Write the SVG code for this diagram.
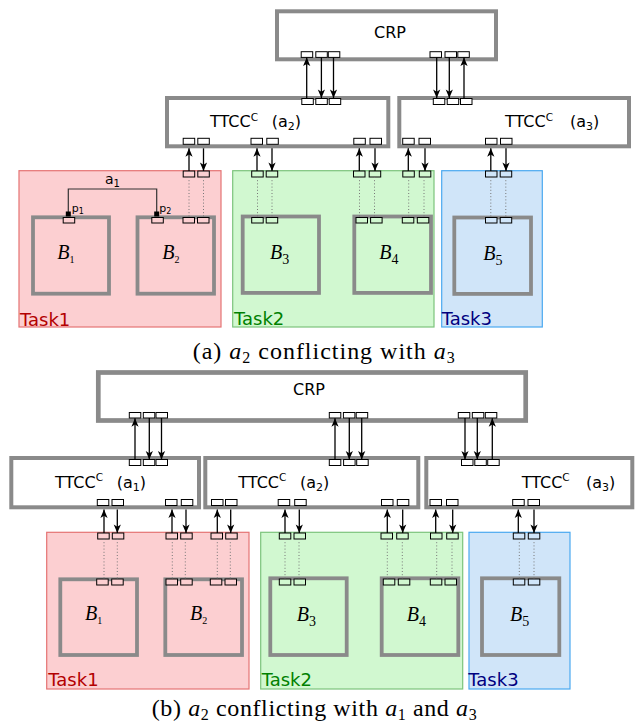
<svg xmlns="http://www.w3.org/2000/svg" xmlns:xlink="http://www.w3.org/1999/xlink" width="636" height="727" viewBox="0 0 636 727">
<style>
.box{fill:#fff;stroke:#8a8a8a;stroke-width:4;}
.crpb{fill:#fff;stroke:#8a8a8a;stroke-width:4.7;}
.blk{fill:none;stroke:#8a8a8a;stroke-width:3.8;}
.port{stroke:#000;stroke-width:1;}
.pw{fill:#fff;}
.p1{fill:#fccfd1;}
.p2{fill:#d1f8d0;}
.p3{fill:#d0e5f9;}
.t1{fill:#fccfd1;stroke:#e57373;stroke-width:1.2;}
.t2{fill:#d1f8d0;stroke:#7cc47c;stroke-width:1.2;}
.t3{fill:#d0e5f9;stroke:#4aa8f0;stroke-width:1.2;}
.arr{stroke:#000;stroke-width:1.3;fill:none;marker-end:url(#ah);}
.dot{stroke:#777;stroke-width:1;stroke-dasharray:1 2.2;fill:none;}
.sans{font-family:"DejaVu Sans",sans-serif;fill:#000;}
.lab{font-family:"DejaVu Sans",sans-serif;font-size:16px;}
.task{font-family:"DejaVu Sans",sans-serif;font-size:18px;}
.bl{font-family:"Liberation Serif",serif;font-style:italic;font-size:20px;fill:#000;}
.cap{font-family:"Liberation Serif",serif;font-size:24px;fill:#000;}
</style>
<defs>
<marker id="ah" markerUnits="userSpaceOnUse" markerWidth="12" markerHeight="10" viewBox="-10 -5 12 10" refX="0" refY="0" orient="auto">
<path d="M0,0 L-8.5,-3.6 L-6.3,0 L-8.5,3.6 Z" fill="#000"/>
</marker>
</defs>

<!-- ================= (a) ================= -->
<g id="a-task1">
<rect class="t1" x="19" y="170.7" width="202" height="156.3"/>
<text class="task" x="20" y="325.5" fill="#b30000">Task1</text>
<rect class="port p1" x="183.2" y="171" width="11.5" height="6"/>
<rect class="port p1" x="197.8" y="171" width="11.5" height="6"/>
</g>
<g id="a-task2">
<rect class="t2" x="232.7" y="170.7" width="201.3" height="156.3"/>
<text class="task" x="234" y="324.5" fill="#008000">Task2</text>
<rect class="port p2" x="251.7" y="171" width="11.5" height="6"/>
<rect class="port p2" x="266.2" y="171" width="11.5" height="6"/>
<rect class="port p2" x="353.5" y="171" width="11.5" height="6"/>
<rect class="port p2" x="369.2" y="171" width="11.5" height="6"/>
<rect class="port p2" x="402.8" y="171" width="11.5" height="6"/>
<rect class="port p2" x="419.3" y="171" width="11.5" height="6"/>
</g>
<g id="a-task3">
<rect class="t3" x="441.7" y="170.7" width="100.6" height="156.3"/>
<text class="task" x="441.7" y="324.5" fill="#000080">Task3</text>
<rect class="port p3" x="485.5" y="171" width="11.5" height="6"/>
<rect class="port p3" x="500.2" y="171" width="11.5" height="6"/>
</g>

<g id="a-B1">
<rect class="blk" x="33" y="217.3" width="76" height="76.4"/>
<rect class="port p1" x="63.2" y="217.5" width="11.5" height="5.5"/>
<text class="bl" x="57.3" y="258.5">B<tspan font-size="10" font-style="normal" dy="4">1</tspan></text>
</g>
<g id="a-B2">
<rect class="blk" x="137.5" y="217.3" width="76.5" height="76.4"/>
<rect class="port p1" x="151.8" y="217.5" width="11.5" height="5.5"/>
<rect class="port p1" x="183" y="217.5" width="11.5" height="5.5"/>
<rect class="port p1" x="197.5" y="217.5" width="11.5" height="5.5"/>
<text class="bl" x="162.3" y="258.5">B<tspan font-size="10" font-style="normal" dy="4">2</tspan></text>
</g>
<g id="a-B3">
<rect class="blk" x="242.7" y="216.5" width="76.3" height="76.4"/>
<rect class="port p2" x="251.7" y="217.5" width="11.5" height="5.5"/>
<rect class="port p2" x="266.2" y="217.5" width="11.5" height="5.5"/>
<text class="bl" x="270" y="259">B<tspan font-size="14" font-style="normal" dy="5">3</tspan></text>
</g>
<g id="a-B4">
<rect class="blk" x="354.3" y="216.5" width="76.7" height="76.4"/>
<rect class="port p2" x="356" y="217.5" width="11.5" height="5.5"/>
<rect class="port p2" x="370.6" y="217.5" width="11.5" height="5.5"/>
<rect class="port p2" x="402.3" y="217.5" width="11.5" height="5.5"/>
<rect class="port p2" x="417.3" y="217.5" width="11.5" height="5.5"/>
<text class="bl" x="379.3" y="259">B<tspan font-size="14" font-style="normal" dy="5">4</tspan></text>
</g>
<g id="a-B5">
<rect class="blk" x="454.3" y="217.5" width="76.7" height="76.4"/>
<rect class="port p3" x="485.5" y="217.5" width="11.5" height="5.5"/>
<rect class="port p3" x="500.2" y="217.5" width="11.5" height="5.5"/>
<text class="bl" x="483.3" y="259.5">B<tspan font-size="14" font-style="normal" dy="5">5</tspan></text>
</g>

<g id="a-CRP">
<rect class="box" x="277" y="11.3" width="219" height="48"/>
<text class="lab" x="374" y="38">CRP</text>
<rect class="port pw" x="301.2" y="51.7" width="11.5" height="5.7"/>
<rect class="port pw" x="315.8" y="51.7" width="11.5" height="5.7"/>
<rect class="port pw" x="328.3" y="51.7" width="11.5" height="5.7"/>
<rect class="port pw" x="430" y="51.7" width="11.5" height="5.7"/>
<rect class="port pw" x="445" y="51.7" width="11.5" height="5.7"/>
<rect class="port pw" x="457.8" y="51.7" width="11.5" height="5.7"/>
</g>
<g id="a-TTCC2">
<rect class="box" x="167" y="98" width="221.3" height="48.3"/>
<text class="lab" x="210" y="127">TTCC<tspan font-size="10.5" dy="-6.5">C</tspan><tspan x="271.7" dy="6.5">(a</tspan><tspan font-size="11" dy="3">2</tspan><tspan dy="-3">)</tspan></text>
<rect class="port pw" x="301.8" y="98.5" width="11.5" height="6"/>
<rect class="port pw" x="315.8" y="98.5" width="11.5" height="6"/>
<rect class="port pw" x="329.2" y="98.5" width="11.5" height="6"/>
<rect class="port pw" x="183.2" y="138.3" width="11.5" height="6"/>
<rect class="port pw" x="197.8" y="138.3" width="11.5" height="6"/>
<rect class="port pw" x="251" y="138.3" width="11.5" height="6"/>
<rect class="port pw" x="266.8" y="138.3" width="11.5" height="6"/>
<rect class="port pw" x="353.8" y="138.3" width="11.5" height="6"/>
<rect class="port pw" x="370" y="138.3" width="11.5" height="6"/>
</g>
<g id="a-TTCC3">
<rect class="box" x="399.3" y="98" width="229.7" height="48.3"/>
<text class="lab" x="505" y="127.3">TTCC<tspan font-size="10.5" dy="-6.5">C</tspan><tspan x="570" dy="6.5">(a</tspan><tspan font-size="11" dy="3">3</tspan><tspan dy="-3">)</tspan></text>
<rect class="port pw" x="433.3" y="98.5" width="11.5" height="6"/>
<rect class="port pw" x="447.2" y="98.5" width="11.5" height="6"/>
<rect class="port pw" x="460.5" y="98.5" width="11.5" height="6"/>
<rect class="port pw" x="402.7" y="138.3" width="11.5" height="6"/>
<rect class="port pw" x="419" y="138.3" width="11.5" height="6"/>
<rect class="port pw" x="485.5" y="138.3" width="11.5" height="6"/>
<rect class="port pw" x="500.5" y="138.3" width="11.5" height="6"/>
</g>

<g id="a-conn-a1">
<path d="M68.3,214 V189 H156.7 V214" fill="none" stroke="#333" stroke-width="1.2"/>
<rect x="65.8" y="211.5" width="5" height="5" fill="#000"/>
<rect x="154.2" y="211.5" width="5" height="5" fill="#000"/>
<text class="sans" font-size="14" x="105" y="184.3">a<tspan font-size="10" dy="3">1</tspan></text>
<text class="sans" font-size="11" x="71.7" y="211.5">p<tspan font-size="8" dy="2.5">1</tspan></text>
<text class="sans" font-size="11" x="159.3" y="211.5">p<tspan font-size="8" dy="2.5">2</tspan></text>
</g>

<g id="a-connectors">
<line class="arr" x1="306.7" y1="98" x2="306.7" y2="57.6"/>
<line class="arr" x1="321.4" y1="57.4" x2="321.4" y2="98"/>
<line class="arr" x1="333.5" y1="57.4" x2="333.5" y2="98"/>
<line class="arr" x1="436.7" y1="57.4" x2="436.7" y2="98"/>
<line class="arr" x1="449.3" y1="57.4" x2="449.3" y2="98"/>
<line class="arr" x1="464" y1="98" x2="464" y2="57.6"/>
<line class="arr" x1="189" y1="171" x2="189" y2="148.3"/>
<line class="arr" x1="203.5" y1="148.3" x2="203.5" y2="171"/>
<line class="arr" x1="257" y1="171" x2="257" y2="148.3"/>
<line class="arr" x1="272" y1="148.3" x2="272" y2="171"/>
<line class="arr" x1="359.3" y1="171" x2="359.3" y2="148.3"/>
<line class="arr" x1="375" y1="148.3" x2="375" y2="171"/>
<line class="arr" x1="408.3" y1="171" x2="408.3" y2="148.3"/>
<line class="arr" x1="425" y1="148.3" x2="425" y2="171"/>
<line class="arr" x1="490.8" y1="171" x2="490.8" y2="148.3"/>
<line class="arr" x1="506" y1="148.3" x2="506" y2="171"/>
<line class="dot" x1="189" y1="177" x2="189" y2="217.5"/>
<line class="dot" x1="203.5" y1="177" x2="203.5" y2="217.5"/>
<line class="dot" x1="257.5" y1="177" x2="257.5" y2="217.5"/>
<line class="dot" x1="272" y1="177" x2="272" y2="217.5"/>
<line class="dot" x1="359.5" y1="177" x2="359.5" y2="217.5"/>
<line class="dot" x1="374.5" y1="177" x2="374.5" y2="217.5"/>
<line class="dot" x1="408.7" y1="177" x2="408.7" y2="217.5"/>
<line class="dot" x1="424" y1="177" x2="424" y2="217.5"/>
<line class="dot" x1="490.8" y1="177" x2="490.8" y2="217.5"/>
<line class="dot" x1="505.8" y1="177" x2="505.8" y2="217.5"/>
</g>

<text class="cap" x="192.7" y="358.5" textLength="262" lengthAdjust="spacing">(a) <tspan font-style="italic">a</tspan><tspan font-size="16" dy="4">2</tspan><tspan dy="-4"> conflicting with </tspan><tspan font-style="italic">a</tspan><tspan font-size="16" dy="4">3</tspan></text>

<!-- ================= (b) ================= -->
<g id="b-task1">
<rect class="t1" x="46.7" y="532.3" width="202.3" height="156.7"/>
<text class="task" x="48.3" y="685.5" fill="#b30000">Task1</text>
<rect class="port p1" x="97.7" y="533" width="11.5" height="6"/>
<rect class="port p1" x="112.3" y="533" width="11.5" height="6"/>
<rect class="port p1" x="166" y="533" width="11.5" height="6"/>
<rect class="port p1" x="180.7" y="533" width="11.5" height="6"/>
<rect class="port p1" x="211" y="533" width="11.5" height="6"/>
<rect class="port p1" x="225.7" y="533" width="11.5" height="6"/>
</g>
<g id="b-task2">
<rect class="t2" x="260.7" y="532.3" width="202" height="156.7"/>
<text class="task" x="261.7" y="685.5" fill="#008000">Task2</text>
<rect class="port p2" x="279.3" y="533" width="11.5" height="6"/>
<rect class="port p2" x="294" y="533" width="11.5" height="6"/>
<rect class="port p2" x="381" y="533" width="11.5" height="6"/>
<rect class="port p2" x="396.7" y="533" width="11.5" height="6"/>
<rect class="port p2" x="430.5" y="533" width="11.5" height="6"/>
<rect class="port p2" x="446.7" y="533" width="11.5" height="6"/>
</g>
<g id="b-task3">
<rect class="t3" x="469" y="532.3" width="101" height="156.7"/>
<text class="task" x="468.3" y="685.5" fill="#000080">Task3</text>
<rect class="port p3" x="513.3" y="533" width="11.5" height="6"/>
<rect class="port p3" x="528.3" y="533" width="11.5" height="6"/>
</g>

<g id="b-B1">
<rect class="blk" x="60.3" y="579.3" width="76.7" height="75.7"/>
<rect class="port p1" x="96.7" y="579" width="11.5" height="6"/>
<rect class="port p1" x="111.7" y="579" width="11.5" height="6"/>
<text class="bl" x="85" y="620">B<tspan font-size="10" font-style="normal" dy="4">1</tspan></text>
</g>
<g id="b-B2">
<rect class="blk" x="165.3" y="579.3" width="76.7" height="75.7"/>
<rect class="port p1" x="166" y="579" width="11.5" height="6"/>
<rect class="port p1" x="180.7" y="579" width="11.5" height="6"/>
<rect class="port p1" x="210.3" y="579" width="11.5" height="6"/>
<rect class="port p1" x="225" y="579" width="11.5" height="6"/>
<text class="bl" x="190" y="620">B<tspan font-size="10" font-style="normal" dy="4">2</tspan></text>
</g>
<g id="b-B3">
<rect class="blk" x="270.3" y="578.3" width="76.4" height="76.7"/>
<rect class="port p2" x="279.3" y="579" width="11.5" height="6"/>
<rect class="port p2" x="294" y="579" width="11.5" height="6"/>
<text class="bl" x="296.7" y="620.5">B<tspan font-size="14" font-style="normal" dy="5">3</tspan></text>
</g>
<g id="b-B4">
<rect class="blk" x="381.7" y="578.3" width="76.6" height="76.7"/>
<rect class="port p2" x="383.3" y="579" width="11.5" height="6"/>
<rect class="port p2" x="398.3" y="579" width="11.5" height="6"/>
<rect class="port p2" x="430.3" y="579" width="11.5" height="6"/>
<rect class="port p2" x="445" y="579" width="11.5" height="6"/>
<text class="bl" x="406.7" y="620.5">B<tspan font-size="14" font-style="normal" dy="5">4</tspan></text>
</g>
<g id="b-B5">
<rect class="blk" x="482" y="578.3" width="77.3" height="76.7"/>
<rect class="port p3" x="513.3" y="579" width="11.5" height="6"/>
<rect class="port p3" x="528.3" y="579" width="11.5" height="6"/>
<text class="bl" x="510" y="620.5">B<tspan font-size="14" font-style="normal" dy="5">5</tspan></text>
</g>

<g id="b-CRP">
<rect class="crpb" x="98.3" y="372.5" width="427.4" height="48"/>
<text class="lab" x="293" y="395">CRP</text>
<rect class="port pw" x="129.3" y="412.5" width="11.5" height="5.5"/>
<rect class="port pw" x="143.3" y="412.5" width="11.5" height="5.5"/>
<rect class="port pw" x="156" y="412.5" width="11.5" height="5.5"/>
<rect class="port pw" x="329.3" y="412.5" width="11.5" height="5.5"/>
<rect class="port pw" x="343.4" y="412.5" width="11.5" height="5.5"/>
<rect class="port pw" x="356.2" y="412.5" width="11.5" height="5.5"/>
<rect class="port pw" x="458.3" y="412.5" width="11.5" height="5.5"/>
<rect class="port pw" x="472.3" y="412.5" width="11.5" height="5.5"/>
<rect class="port pw" x="485.3" y="412.5" width="11.5" height="5.5"/>
</g>
<g id="b-TTCC1">
<rect class="box" x="11.3" y="458" width="187.7" height="49.3"/>
<text class="lab" x="55" y="487.7">TTCC<tspan font-size="10.5" dy="-6.5">C</tspan><tspan x="116.7" dy="6.5">(a</tspan><tspan font-size="11" dy="3">1</tspan><tspan dy="-3">)</tspan></text>
<rect class="port pw" x="129.3" y="459.5" width="11.5" height="6"/>
<rect class="port pw" x="143.3" y="459.5" width="11.5" height="6"/>
<rect class="port pw" x="156" y="459.5" width="11.5" height="6"/>
<rect class="port pw" x="97.3" y="499.5" width="11.5" height="6"/>
<rect class="port pw" x="112" y="499.5" width="11.5" height="6"/>
<rect class="port pw" x="165.5" y="499.5" width="11.5" height="6"/>
<rect class="port pw" x="181.3" y="499.5" width="11.5" height="6"/>
</g>
<g id="b-TTCC2">
<rect class="box" x="205.3" y="458" width="213" height="49.3"/>
<text class="lab" x="238.3" y="487.7">TTCC<tspan font-size="10.5" dy="-6.5">C</tspan><tspan x="300" dy="6.5">(a</tspan><tspan font-size="11" dy="3">2</tspan><tspan dy="-3">)</tspan></text>
<rect class="port pw" x="329.3" y="459.5" width="11.5" height="6"/>
<rect class="port pw" x="343.6" y="459.5" width="11.5" height="6"/>
<rect class="port pw" x="356.7" y="459.5" width="11.5" height="6"/>
<rect class="port pw" x="211.5" y="499.5" width="11.5" height="6"/>
<rect class="port pw" x="225.5" y="499.5" width="11.5" height="6"/>
<rect class="port pw" x="278.2" y="499.5" width="11.5" height="6"/>
<rect class="port pw" x="294.7" y="499.5" width="11.5" height="6"/>
<rect class="port pw" x="381.5" y="499.5" width="11.5" height="6"/>
<rect class="port pw" x="397.3" y="499.5" width="11.5" height="6"/>
</g>
<g id="b-TTCC3">
<rect class="box" x="426.3" y="458" width="206" height="49.3"/>
<text class="lab" x="521.7" y="487.7">TTCC<tspan font-size="10.5" dy="-6.5">C</tspan><tspan x="586" dy="6.5">(a</tspan><tspan font-size="11" dy="3">3</tspan><tspan dy="-3">)</tspan></text>
<rect class="port pw" x="461.5" y="459.5" width="11.5" height="6"/>
<rect class="port pw" x="474.8" y="459.5" width="11.5" height="6"/>
<rect class="port pw" x="487.7" y="459.5" width="11.5" height="6"/>
<rect class="port pw" x="430" y="499.5" width="11.5" height="6"/>
<rect class="port pw" x="446.5" y="499.5" width="11.5" height="6"/>
<rect class="port pw" x="512.7" y="499.5" width="11.5" height="6"/>
<rect class="port pw" x="528" y="499.5" width="11.5" height="6"/>
</g>

<g id="b-connectors">
<line class="arr" x1="135" y1="459.5" x2="135" y2="418.2"/>
<line class="arr" x1="149.3" y1="418" x2="149.3" y2="459.5"/>
<line class="arr" x1="161.5" y1="418" x2="161.5" y2="459.5"/>
<line class="arr" x1="335" y1="459.5" x2="335" y2="418.2"/>
<line class="arr" x1="349.3" y1="418" x2="349.3" y2="459.5"/>
<line class="arr" x1="361.7" y1="418" x2="361.7" y2="459.5"/>
<line class="arr" x1="465" y1="418" x2="465" y2="459.5"/>
<line class="arr" x1="477.3" y1="418" x2="477.3" y2="459.5"/>
<line class="arr" x1="492.3" y1="459.5" x2="492.3" y2="418.2"/>
<line class="arr" x1="104" y1="533" x2="104" y2="509.5"/>
<line class="arr" x1="117.3" y1="509.5" x2="117.3" y2="533"/>
<line class="arr" x1="172" y1="533" x2="172" y2="509.5"/>
<line class="arr" x1="186" y1="509.5" x2="186" y2="533"/>
<line class="arr" x1="217.3" y1="533" x2="217.3" y2="509.5"/>
<line class="arr" x1="230.7" y1="509.5" x2="230.7" y2="533"/>
<line class="arr" x1="285" y1="533" x2="285" y2="509.5"/>
<line class="arr" x1="299.3" y1="509.5" x2="299.3" y2="533"/>
<line class="arr" x1="387.3" y1="533" x2="387.3" y2="509.5"/>
<line class="arr" x1="402.7" y1="509.5" x2="402.7" y2="533"/>
<line class="arr" x1="435.7" y1="533" x2="435.7" y2="509.5"/>
<line class="arr" x1="452.7" y1="509.5" x2="452.7" y2="533"/>
<line class="arr" x1="518.3" y1="533" x2="518.3" y2="509.5"/>
<line class="arr" x1="534" y1="509.5" x2="534" y2="533"/>
<line class="dot" x1="104" y1="539" x2="104" y2="579"/>
<line class="dot" x1="117.3" y1="539" x2="117.3" y2="579"/>
<line class="dot" x1="172.3" y1="539" x2="172.3" y2="579"/>
<line class="dot" x1="185.3" y1="539" x2="185.3" y2="579"/>
<line class="dot" x1="217.3" y1="539" x2="217.3" y2="579"/>
<line class="dot" x1="230.3" y1="539" x2="230.3" y2="579"/>
<line class="dot" x1="285" y1="539" x2="285" y2="579"/>
<line class="dot" x1="299" y1="539" x2="299" y2="579"/>
<line class="dot" x1="387.3" y1="539" x2="387.3" y2="579"/>
<line class="dot" x1="402.3" y1="539" x2="402.3" y2="579"/>
<line class="dot" x1="436.7" y1="539" x2="436.7" y2="579"/>
<line class="dot" x1="452" y1="539" x2="452" y2="579"/>
<line class="dot" x1="519.3" y1="539" x2="519.3" y2="579"/>
<line class="dot" x1="534" y1="539" x2="534" y2="579"/>
</g>

<text class="cap" x="151.7" y="716" textLength="325" lengthAdjust="spacing">(b) <tspan font-style="italic">a</tspan><tspan font-size="16" dy="4">2</tspan><tspan dy="-4"> conflicting with </tspan><tspan font-style="italic">a</tspan><tspan font-size="16" dy="4">1</tspan><tspan dy="-4"> and </tspan><tspan font-style="italic">a</tspan><tspan font-size="16" dy="4">3</tspan></text>
</svg>
